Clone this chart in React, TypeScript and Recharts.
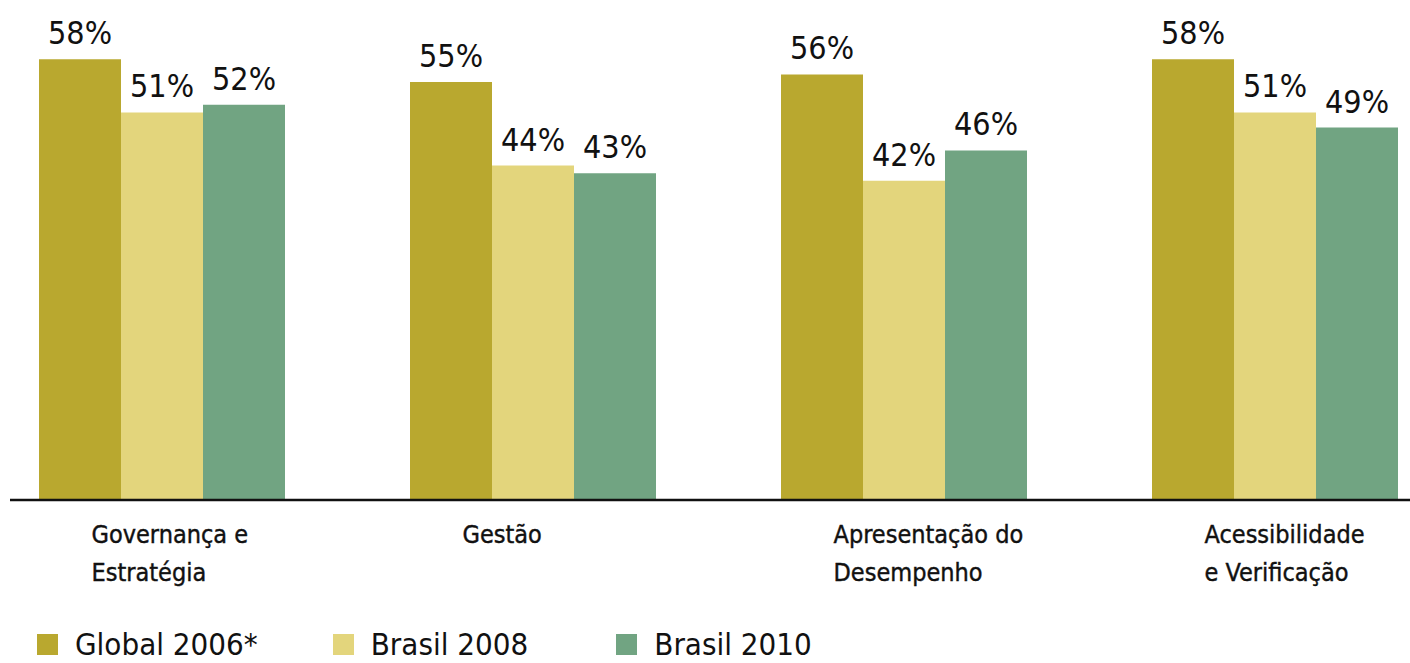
import { BarChart, Bar, XAxis, YAxis, Legend, LabelList } from "recharts";

const categories = [
  "Governança e\nEstratégia",
  "Gestão",
  "Apresentação do\nDesempenho",
  "Acessibilidade\ne Verificação",
];
const global2006 = [58, 55, 56, 58];
const brasil2008 = [51, 44, 42, 51];
const brasil2010 = [52, 43, 46, 49];

const seriesNames = ["Global 2006*", "Brasil 2008", "Brasil 2010"];
const colors = ["#b9a82f", "#e3d57c", "#71a482"];

const data = categories.map((name, i) => ({
  name,
  global2006: global2006[i],
  brasil2008: brasil2008[i],
  brasil2010: brasil2010[i],
}));

const FONT = '"DejaVu Sans Condensed", "Liberation Sans Narrow", "Roboto", sans-serif';

const CategoryTick = ({ x, y, payload }: any) => {
  const lines = String(payload.value).split("\n");
  return (
    <text
      x={x - 70}
      y={y + 43}
      textAnchor="start"
      fontFamily={FONT}
      fontSize={25}
      fill="#111"
      stroke="#111"
      strokeWidth={0.4}
    >
      {lines.map((l, i) => (
        <tspan key={i} x={x - 70} dy={i === 0 ? 0 : 38}>
          {l}
        </tspan>
      ))}
    </text>
  );
};

const CustomLegend = () => (
  <div style={{ display: "flex", fontFamily: FONT, fontSize: 31, color: "#111", lineHeight: "31px" }}>
    {seriesNames.map((n, i) => (
      <div
        key={n}
        style={{ display: "flex", alignItems: "center", marginRight: i === 1 ? 88 : 75 }}
      >
        <span
          style={{
            display: "inline-block",
            width: 21,
            height: 21,
            background: colors[i],
            marginRight: 17,
          }}
        />
        <span>{n}</span>
      </div>
    ))}
  </div>
);

const pct = (v: any) => `${v}%`;

export default function App() {
  return (
    <div
      style={{
        position: "absolute",
        left: 10,
        top: 0,
        width: 1400,
        height: 663,
        overflow: "hidden",
        background: "#fff",
      }}
    >
      <BarChart
        width={1400}
        height={663}
        data={data}
        margin={{ top: 44, right: -50, bottom: 0, left: -34 }}
        barSize={82}
        barGap={0}
      >
        <XAxis
          dataKey="name"
          height={163}
          tickLine={false}
          tickSize={0}
          tickMargin={0}
          axisLine={{ stroke: "#111", strokeWidth: 2.5 }}
          tick={<CategoryTick />}
          interval={0}
        />
        <YAxis hide domain={[0, 60]} />
        <Legend
          verticalAlign="middle"
          align="center"
          content={<CustomLegend />}
          wrapperStyle={{ top: 629, left: 27, width: "auto" }}
        />
        {["global2006", "brasil2008", "brasil2010"].map((k, i) => (
          <Bar
            key={k}
            dataKey={k}
            name={seriesNames[i]}
            fill={colors[i]}
            isAnimationActive={false}
          >
            <LabelList
              dataKey={k}
              position="top"
              offset={15}
              formatter={pct}
              fill="#111"
              fontSize={32}
              fontFamily={FONT}
            />
          </Bar>
        ))}
      </BarChart>
    </div>
  );
}
